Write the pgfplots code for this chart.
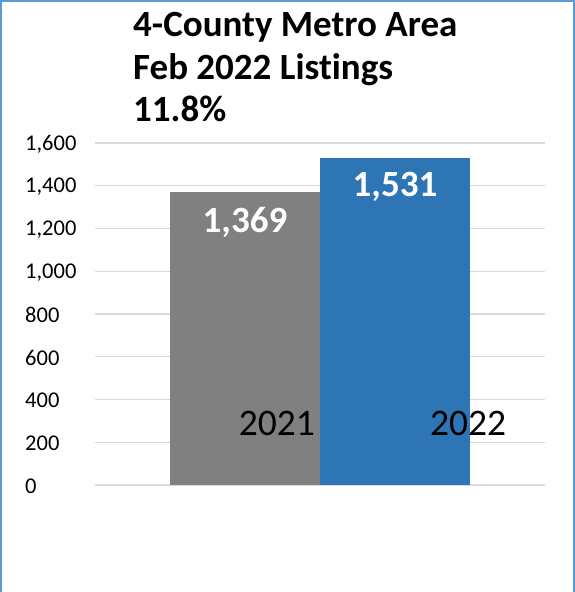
\documentclass[border=0pt]{standalone}
\usepackage{pgfplots}
\pgfplotsset{compat=1.18}
\usepackage{fontspec}
\setmainfont{Carlito}[Ligatures=NoCommon]
\definecolor{barGray}{RGB}{128,128,128}
\definecolor{barBlue}{RGB}{46,117,182}
\definecolor{gridGray}{RGB}{217,217,217}
\definecolor{frameBlue}{RGB}{91,155,213}
\begin{document}
\begin{tikzpicture}
  \useasboundingbox (0,0) rectangle (575pt,592pt);
  % frame (no bottom edge visible)
  \draw[frameBlue, line width=1.2pt] (1pt,0) -- (1pt,591pt) -- (574pt,591pt) -- (574pt,0);
  \begin{axis}[
      at={(95pt,107pt)}, anchor=south west,
      scale only axis,
      width=450pt, height=342pt,
      xmin=-1, xmax=2,
      ymin=0, ymax=1600,
      ytick={0,200,...,1600},
      xtick=\empty,
      axis line style={draw=none},
      major tick length=0pt,
      ymajorgrids,
      grid style={gridGray, line width=1.3pt},
      /pgf/number format/assume math mode=true,
      /pgf/number format/1000 sep={,},
      yticklabel style={anchor=west, inner sep=0pt, xshift=-70pt, yshift=-1pt,
        font=\fontsize{22.5}{26}\selectfont},
      ybar, bar width=1, bar shift=0pt,
      nodes near coords,
      nodes near coords style={anchor=north, yshift=-11pt, white,
        font=\fontsize{37}{42}\selectfont\bfseries,
        /pgf/number format/1000 sep={,}},
      clip=false,
    ]
    \addplot[fill=barGray, draw=none] coordinates {(0,1369)};
    \addplot[fill=barBlue, draw=none] coordinates {(1,1531)};
    \node[anchor=base east, inner sep=0pt, font=\fontsize{37.5}{42}\selectfont] at (axis cs:0.467,230) {2021};
    \node[anchor=base west, inner sep=0pt, font=\fontsize{37.5}{42}\selectfont] at (axis cs:1.233,230) {2022};
  \end{axis}
  \begin{scope}[every node/.style={anchor=base west, inner sep=0pt, font=\fontsize{37}{42}\selectfont\bfseries}]
    \node at (133pt,555pt) {4-County Metro Area};
    \node at (133pt,512pt) {Feb 2022 Listings};
    \node at (133pt,470pt) {11.8\%};
  \end{scope}
\end{tikzpicture}
\end{document}
